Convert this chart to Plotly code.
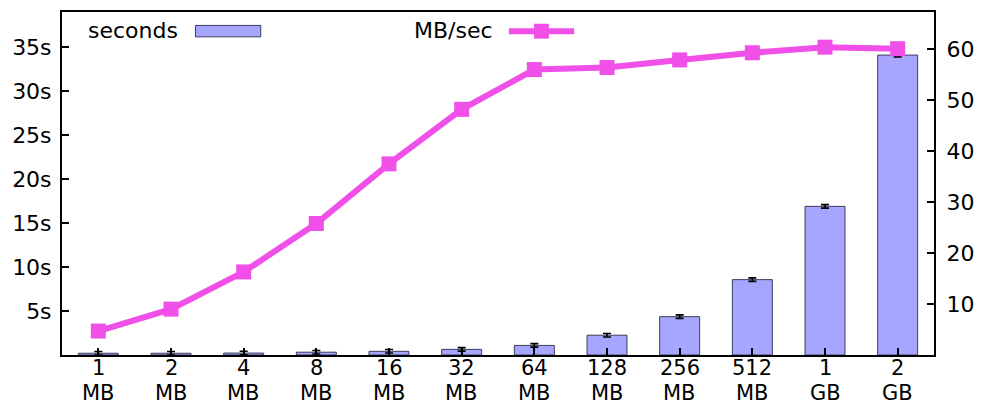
import plotly.graph_objects as go

sizes = ["1", "2", "4", "8", "16", "32", "64", "128", "256", "512", "1", "2"]
units = ["MB", "MB", "MB", "MB", "MB", "MB", "MB", "MB", "MB", "MB", "GB", "GB"]
seconds = [0.20, 0.20, 0.22, 0.32, 0.42, 0.64, 1.09, 2.25, 4.36, 8.57, 16.9, 34.1]
seconds_err = [0.2] * 12
mb_per_sec = [4.7, 9.0, 16.3, 25.8, 37.5, 48.2, 56.0, 56.4, 57.9, 59.3, 60.4, 60.1]
left_ticks = [5, 10, 15, 20, 25, 30, 35]
right_ticks = [10, 20, 30, 40, 50, 60]

BAR = "#a6a6ff"
LINE = "#f050e8"
FONT = "DejaVu Sans"
FS = 22
FSX = 21

x = list(range(len(sizes)))

fig = go.Figure()
fig.add_trace(go.Bar(
    x=x, y=seconds, width=0.55,
    marker=dict(color=BAR, line=dict(color="#3c3c5a", width=1)),
    error_y=dict(type="data", array=seconds_err, color="black", thickness=1.6, width=4),
    yaxis="y", showlegend=False,
))
fig.add_trace(go.Scatter(
    x=x, y=mb_per_sec, mode="lines+markers",
    line=dict(color=LINE, width=6),
    marker=dict(symbol="square", size=15, color=LINE),
    yaxis="y2", showlegend=False,
))

W, H = 984, 405
L, R, T, B = 62, 40, 10, 50
pw, ph = W - L - R, H - T - B

def px(xp):
    return (xp - L) / pw

def py(yp):
    return (H - B - yp) / ph

annotations = []
for i, (s, u) in enumerate(zip(sizes, units)):
    annotations.append(dict(x=i, y=py(368), xref="x", yref="paper", text=s, showarrow=False,
                            yanchor="middle", xanchor="center", font=dict(family=FONT, size=FSX, color="black")))
    annotations.append(dict(x=i, y=py(393), xref="x", yref="paper", text=u, showarrow=False,
                            yanchor="middle", xanchor="center", font=dict(family=FONT, size=FSX, color="black")))

# legend (text left of swatch, gnuplot style)
annotations.append(dict(x=px(181), y=py(29), xref="paper", yref="paper", text="seconds", showarrow=False,
                        xanchor="right", yanchor="middle", font=dict(family=FONT, size=FS, color="black")))
annotations.append(dict(x=px(500), y=py(29), xref="paper", yref="paper", text="MB/sec", showarrow=False,
                        xanchor="right", yanchor="middle", font=dict(family=FONT, size=FS, color="black")))

shapes = [
    dict(type="rect", xref="paper", yref="paper", x0=px(197), x1=px(263), y0=py(35), y1=py(23.5),
         fillcolor=BAR, line=dict(color="#3c3c5a", width=1)),
    dict(type="line", xref="paper", yref="paper", x0=px(514), x1=px(580), y0=py(29.3), y1=py(29.3),
         line=dict(color=LINE, width=6)),
    dict(type="rect", xref="paper", yref="paper", x0=px(539.5), x1=px(554.5), y0=py(36.8), y1=py(21.8),
         fillcolor=LINE, line=dict(width=0)),
]

fig.update_layout(
    width=W, height=H,
    margin=dict(l=L, r=R, t=T, b=B),
    paper_bgcolor="white", plot_bgcolor="white",
    font=dict(family=FONT, size=FS, color="black"),
    xaxis=dict(range=[-0.5, 11.5], tickvals=x, showticklabels=False,
               ticks="inside", ticklen=7, tickcolor="black", tickwidth=1.5,
               showline=True, linecolor="black", linewidth=2, mirror=True,
               showgrid=False, zeroline=False),
    yaxis=dict(range=[0, 39], tickvals=left_ticks, ticktext=[f"{v}s" for v in left_ticks],
               ticks="inside", ticklen=7, tickcolor="black", tickwidth=1.5,
               showline=True, linecolor="black", linewidth=2,
               showgrid=False, zeroline=False, ticklabelstandoff=4),
    yaxis2=dict(range=[0, 67.3], tickvals=right_ticks, overlaying="y", side="right",
                ticks="inside", ticklen=7, tickcolor="black", tickwidth=1.5,
                showline=True, linecolor="black", linewidth=2,
                showgrid=False, zeroline=False, ticklabelstandoff=6),
    annotations=annotations,
    shapes=shapes,
)

fig.write_html("out.html", config={"displayModeBar": False},
               post_script="document.body.style.margin='0';document.body.style.overflow='hidden';")
